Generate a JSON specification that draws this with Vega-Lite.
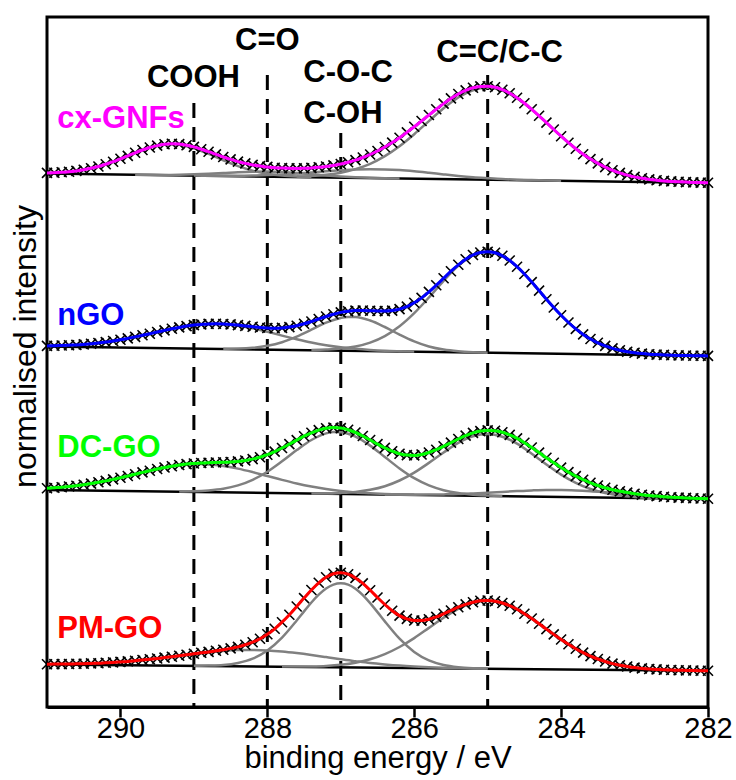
{
"$schema": "https://vega.github.io/schema/vega-lite/v6.json",
"width": 661, "height": 690,
"autosize": {"type": "none"},
"padding": {"left": 47, "top": 17, "right": 28, "bottom": 73},
"background": "white",
"config": {"view": {"stroke": "black", "strokeWidth": 3}, "font": "Liberation Sans"},
"datasets": {
"pts": [
{"E":291.0,"a":534.1,"b":361.1,"c":218.8,"d":42.8},
{"E":290.9,"a":534.3,"b":361.3,"c":219.3,"d":42.9},
{"E":290.8,"a":534.7,"b":361.5,"c":219.8,"d":42.9},
{"E":290.7,"a":535.2,"b":361.8,"c":220.5,"d":43.0},
{"E":290.6,"a":536.1,"b":362.1,"c":221.3,"d":43.2},
{"E":290.5,"a":537.2,"b":362.6,"c":222.3,"d":43.3},
{"E":290.4,"a":538.7,"b":363.3,"c":223.4,"d":43.6},
{"E":290.3,"a":540.5,"b":364.0,"c":224.7,"d":43.8},
{"E":290.2,"a":542.8,"b":364.9,"c":226.1,"d":44.2},
{"E":290.1,"a":545.3,"b":366.0,"c":227.6,"d":44.6},
{"E":290.0,"a":548.2,"b":367.2,"c":229.3,"d":45.1},
{"E":289.9,"a":551.1,"b":368.6,"c":231.0,"d":45.6},
{"E":289.8,"a":554.2,"b":370.1,"c":232.8,"d":46.3},
{"E":289.7,"a":557.0,"b":371.7,"c":234.6,"d":47.0},
{"E":289.6,"a":559.5,"b":373.3,"c":236.3,"d":47.7},
{"E":289.5,"a":561.4,"b":375.0,"c":238.0,"d":48.5},
{"E":289.4,"a":562.7,"b":376.6,"c":239.5,"d":49.4},
{"E":289.3,"a":563.2,"b":378.2,"c":240.8,"d":50.3},
{"E":289.2,"a":562.9,"b":379.6,"c":242.0,"d":51.3},
{"E":289.1,"a":561.8,"b":380.9,"c":242.9,"d":52.2},
{"E":289.0,"a":560.1,"b":381.9,"c":243.5,"d":53.2},
{"E":288.9,"a":557.8,"b":382.6,"c":244.0,"d":54.2},
{"E":288.8,"a":555.3,"b":383.1,"c":244.3,"d":55.1},
{"E":288.7,"a":552.6,"b":383.2,"c":244.5,"d":56.2},
{"E":288.6,"a":550.0,"b":383.0,"c":244.7,"d":57.3},
{"E":288.5,"a":547.6,"b":382.6,"c":245.0,"d":58.6},
{"E":288.4,"a":545.4,"b":381.9,"c":245.6,"d":60.1},
{"E":288.3,"a":543.6,"b":381.1,"c":246.5,"d":62.2},
{"E":288.2,"a":542.1,"b":380.3,"c":247.9,"d":64.8},
{"E":288.1,"a":540.9,"b":379.5,"c":249.8,"d":68.3},
{"E":288.0,"a":540.1,"b":379.0,"c":252.3,"d":72.7},
{"E":287.9,"a":539.3,"b":378.8,"c":255.4,"d":78.2},
{"E":287.8,"a":538.9,"b":379.1,"c":259.0,"d":84.8},
{"E":287.7,"a":538.7,"b":379.9,"c":262.9,"d":92.3},
{"E":287.6,"a":538.6,"b":381.3,"c":266.9,"d":100.5},
{"E":287.5,"a":538.8,"b":383.2,"c":270.8,"d":108.9},
{"E":287.4,"a":539.1,"b":385.5,"c":274.2,"d":117.0},
{"E":287.3,"a":539.7,"b":388.0,"c":276.9,"d":124.2},
{"E":287.2,"a":540.5,"b":390.5,"c":278.7,"d":129.7},
{"E":287.1,"a":541.6,"b":392.7,"c":279.4,"d":133.2},
{"E":287.0,"a":543.0,"b":394.6,"c":278.9,"d":134.3},
{"E":286.9,"a":544.8,"b":395.8,"c":277.2,"d":132.8},
{"E":286.8,"a":546.9,"b":396.4,"c":274.5,"d":129.1},
{"E":286.7,"a":549.5,"b":396.5,"c":271.0,"d":123.6},
{"E":286.6,"a":552.5,"b":396.3,"c":267.0,"d":116.8},
{"E":286.5,"a":556.0,"b":396.0,"c":262.9,"d":109.5},
{"E":286.4,"a":560.0,"b":395.9,"c":259.1,"d":102.5},
{"E":286.3,"a":564.4,"b":396.4,"c":255.8,"d":96.3},
{"E":286.2,"a":569.3,"b":397.9,"c":253.3,"d":91.4},
{"E":286.1,"a":574.6,"b":400.4,"c":251.9,"d":88.1},
{"E":286.0,"a":580.2,"b":404.2,"c":251.6,"d":86.5},
{"E":285.9,"a":586.0,"b":409.1,"c":252.5,"d":86.4},
{"E":285.8,"a":592.0,"b":415.1,"c":254.5,"d":87.8},
{"E":285.7,"a":597.8,"b":421.8,"c":257.3,"d":90.1},
{"E":285.6,"a":603.4,"b":428.8,"c":260.7,"d":93.2},
{"E":285.5,"a":608.6,"b":435.8,"c":264.4,"d":96.5},
{"E":285.4,"a":613.0,"b":442.2,"c":268.0,"d":99.8},
{"E":285.3,"a":616.6,"b":447.8,"c":271.4,"d":102.6},
{"E":285.2,"a":619.2,"b":452.0,"c":274.1,"d":104.8},
{"E":285.1,"a":620.6,"b":454.5,"c":275.9,"d":106.2},
{"E":285.0,"a":620.8,"b":455.3,"c":276.6,"d":106.5},
{"E":284.9,"a":619.7,"b":454.2,"c":276.3,"d":105.8},
{"E":284.8,"a":617.3,"b":451.2,"c":274.7,"d":104.0},
{"E":284.7,"a":613.8,"b":446.5,"c":272.1,"d":101.3},
{"E":284.6,"a":609.3,"b":440.3,"c":268.6,"d":97.7},
{"E":284.5,"a":603.8,"b":433.0,"c":264.3,"d":93.3},
{"E":284.4,"a":597.7,"b":424.9,"c":259.5,"d":88.5},
{"E":284.3,"a":591.2,"b":416.4,"c":254.4,"d":83.3},
{"E":284.2,"a":584.4,"b":407.8,"c":249.2,"d":77.9},
{"E":284.1,"a":577.5,"b":399.5,"c":244.2,"d":72.6},
{"E":284.0,"a":570.8,"b":391.7,"c":239.4,"d":67.5},
{"E":283.9,"a":564.3,"b":384.5,"c":234.9,"d":62.7},
{"E":283.8,"a":558.3,"b":378.1,"c":230.9,"d":58.3},
{"E":283.7,"a":552.8,"b":372.6,"c":227.3,"d":54.4},
{"E":283.6,"a":547.9,"b":368.0,"c":224.2,"d":50.9},
{"E":283.5,"a":543.6,"b":364.2,"c":221.5,"d":48.0},
{"E":283.4,"a":539.9,"b":361.1,"c":219.2,"d":45.5},
{"E":283.3,"a":536.7,"b":358.6,"c":217.3,"d":43.4},
{"E":283.2,"a":534.1,"b":356.7,"c":215.7,"d":41.8},
{"E":283.1,"a":531.9,"b":355.3,"c":214.4,"d":40.5},
{"E":283.0,"a":530.1,"b":354.2,"c":213.3,"d":39.4},
{"E":282.9,"a":528.7,"b":353.4,"c":212.3,"d":38.6},
{"E":282.8,"a":527.6,"b":352.8,"c":211.5,"d":38.0},
{"E":282.7,"a":526.8,"b":352.4,"c":210.9,"d":37.6},
{"E":282.6,"a":526.1,"b":352.1,"c":210.3,"d":37.2},
{"E":282.5,"a":525.6,"b":351.8,"c":209.8,"d":37.0},
{"E":282.4,"a":525.2,"b":351.6,"c":209.4,"d":36.7},
{"E":282.3,"a":524.9,"b":351.5,"c":209.1,"d":36.6},
{"E":282.2,"a":524.6,"b":351.3,"c":208.8,"d":36.5},
{"E":282.1,"a":524.4,"b":351.2,"c":208.5,"d":36.3},
{"E":282.0,"a":524.2,"b":351.1,"c":208.3,"d":36.2}
],
"comp": [
{"c":"a1","E":291.0,"y":534.1},{"c":"a1","E":290.8,"y":534.7},{"c":"a1","E":290.6,"y":536.1},{"c":"a1","E":290.4,"y":538.7},{"c":"a1","E":290.2,"y":542.8},{"c":"a1","E":290.0,"y":548.2},{"c":"a1","E":289.8,"y":554.1},{"c":"a1","E":289.6,"y":559.4},{"c":"a1","E":289.4,"y":562.4},{"c":"a1","E":289.3,"y":562.7},{"c":"a1","E":289.2,"y":562.2},{"c":"a1","E":289.0,"y":558.8},{"c":"a1","E":288.8,"y":553.1},{"c":"a1","E":288.6,"y":546.7},{"c":"a1","E":288.4,"y":540.9},{"c":"a1","E":288.2,"y":536.4},{"c":"a1","E":288.0,"y":533.3},{"c":"a1","E":287.8,"y":531.5},{"c":"a1","E":287.6,"y":530.5},{"c":"a1","E":287.4,"y":529.9},
{"c":"a2","E":289.8,"y":532.3},{"c":"a2","E":289.6,"y":532.2},{"c":"a2","E":289.4,"y":532.1},{"c":"a2","E":289.2,"y":532.3},{"c":"a2","E":289.0,"y":532.7},{"c":"a2","E":288.8,"y":533.3},{"c":"a2","E":288.6,"y":534.0},{"c":"a2","E":288.4,"y":534.8},{"c":"a2","E":288.2,"y":535.3},{"c":"a2","E":288.0,"y":535.4},{"c":"a2","E":287.8,"y":534.9},{"c":"a2","E":287.6,"y":533.9},{"c":"a2","E":287.4,"y":532.8},{"c":"a2","E":287.2,"y":531.6},{"c":"a2","E":287.0,"y":530.6},{"c":"a2","E":286.8,"y":529.8},{"c":"a2","E":286.6,"y":529.2},{"c":"a2","E":286.4,"y":528.8},{"c":"a2","E":286.2,"y":528.6},
{"c":"a3","E":289.0,"y":531.5},{"c":"a3","E":288.8,"y":531.3},{"c":"a3","E":288.6,"y":531.3},{"c":"a3","E":288.4,"y":531.3},{"c":"a3","E":288.2,"y":531.5},{"c":"a3","E":288.0,"y":531.9},{"c":"a3","E":287.8,"y":532.5},{"c":"a3","E":287.6,"y":533.4},{"c":"a3","E":287.4,"y":534.5},{"c":"a3","E":287.2,"y":535.7},{"c":"a3","E":287.0,"y":536.7},{"c":"a3","E":286.8,"y":537.5},{"c":"a3","E":286.6,"y":537.8},{"c":"a3","E":286.4,"y":537.6},{"c":"a3","E":286.2,"y":536.9},{"c":"a3","E":286.0,"y":535.7},{"c":"a3","E":285.8,"y":534.2},{"c":"a3","E":285.6,"y":532.6},{"c":"a3","E":285.4,"y":531.1},{"c":"a3","E":285.2,"y":529.8},{"c":"a3","E":285.0,"y":528.8},{"c":"a3","E":284.8,"y":527.9},{"c":"a3","E":284.6,"y":527.3},{"c":"a3","E":284.4,"y":526.9},{"c":"a3","E":284.2,"y":526.5},{"c":"a3","E":284.0,"y":526.2},
{"c":"a4","E":287.6,"y":530.6},{"c":"a4","E":287.4,"y":531.1},{"c":"a4","E":287.2,"y":532.3},{"c":"a4","E":287.0,"y":534.3},{"c":"a4","E":286.8,"y":537.9},{"c":"a4","E":286.6,"y":543.2},{"c":"a4","E":286.4,"y":550.9},{"c":"a4","E":286.2,"y":560.8},{"c":"a4","E":286.0,"y":572.8},{"c":"a4","E":285.8,"y":585.9},{"c":"a4","E":285.6,"y":598.7},{"c":"a4","E":285.4,"y":609.5},{"c":"a4","E":285.2,"y":616.8},{"c":"a4","E":285.0,"y":619.2},{"c":"a4","E":284.8,"y":616.4},{"c":"a4","E":284.6,"y":608.7},{"c":"a4","E":284.4,"y":597.4},{"c":"a4","E":284.2,"y":584.2},{"c":"a4","E":284.0,"y":570.7},{"c":"a4","E":283.8,"y":558.3},{"c":"a4","E":283.6,"y":547.9},{"c":"a4","E":283.4,"y":539.9},{"c":"a4","E":283.2,"y":534.1},{"c":"a4","E":283.0,"y":530.1},{"c":"a4","E":282.8,"y":527.6},{"c":"a4","E":282.6,"y":526.1},{"c":"a4","E":282.4,"y":525.2},{"c":"a4","E":282.2,"y":524.6},{"c":"a4","E":282.0,"y":524.2},
{"c":"b1","E":291.0,"y":361.1},{"c":"b1","E":290.8,"y":361.5},{"c":"b1","E":290.6,"y":362.1},{"c":"b1","E":290.4,"y":363.3},{"c":"b1","E":290.2,"y":364.9},{"c":"b1","E":290.0,"y":367.2},{"c":"b1","E":289.8,"y":370.1},{"c":"b1","E":289.6,"y":373.3},{"c":"b1","E":289.4,"y":376.6},{"c":"b1","E":289.2,"y":379.6},{"c":"b1","E":289.0,"y":381.9},{"c":"b1","E":288.8,"y":383.0},{"c":"b1","E":288.7,"y":383.1},{"c":"b1","E":288.6,"y":382.8},{"c":"b1","E":288.4,"y":381.3},{"c":"b1","E":288.2,"y":378.6},{"c":"b1","E":288.0,"y":375.2},{"c":"b1","E":287.8,"y":371.4},{"c":"b1","E":287.6,"y":367.8},{"c":"b1","E":287.4,"y":364.5},{"c":"b1","E":287.2,"y":361.8},{"c":"b1","E":287.0,"y":359.7},{"c":"b1","E":286.8,"y":358.2},{"c":"b1","E":286.6,"y":357.1},{"c":"b1","E":286.4,"y":356.3},{"c":"b1","E":286.2,"y":355.8},{"c":"b1","E":286.0,"y":355.4},
{"c":"b2","E":288.6,"y":358.2},{"c":"b2","E":288.4,"y":358.4},{"c":"b2","E":288.2,"y":359.2},{"c":"b2","E":288.0,"y":361.2},{"c":"b2","E":287.8,"y":364.8},{"c":"b2","E":287.6,"y":370.4},{"c":"b2","E":287.4,"y":377.3},{"c":"b2","E":287.2,"y":384.3},{"c":"b2","E":287.0,"y":389.1},{"c":"b2","E":286.9,"y":390.1},{"c":"b2","E":286.8,"y":390.0},{"c":"b2","E":286.6,"y":386.5},{"c":"b2","E":286.4,"y":380.0},{"c":"b2","E":286.2,"y":372.4},{"c":"b2","E":286.0,"y":365.6},{"c":"b2","E":285.8,"y":360.5},{"c":"b2","E":285.6,"y":357.4},{"c":"b2","E":285.4,"y":355.7},{"c":"b2","E":285.2,"y":354.8},{"c":"b2","E":285.0,"y":354.3},
{"c":"b3","E":287.4,"y":357.1},{"c":"b3","E":287.2,"y":357.5},{"c":"b3","E":287.0,"y":358.4},{"c":"b3","E":286.8,"y":360.5},{"c":"b3","E":286.6,"y":364.4},{"c":"b3","E":286.4,"y":370.9},{"c":"b3","E":286.2,"y":380.7},{"c":"b3","E":286.0,"y":393.8},{"c":"b3","E":285.8,"y":409.5},{"c":"b3","E":285.6,"y":426.2},{"c":"b3","E":285.4,"y":441.2},{"c":"b3","E":285.2,"y":451.6},{"c":"b3","E":285.0,"y":455.2},{"c":"b3","E":284.8,"y":451.2},{"c":"b3","E":284.6,"y":440.3},{"c":"b3","E":284.4,"y":424.9},{"c":"b3","E":284.2,"y":407.8},{"c":"b3","E":284.0,"y":391.7},{"c":"b3","E":283.8,"y":378.1},{"c":"b3","E":283.6,"y":368.0},{"c":"b3","E":283.4,"y":361.1},{"c":"b3","E":283.2,"y":356.7},{"c":"b3","E":283.0,"y":354.2},{"c":"b3","E":282.8,"y":352.8},{"c":"b3","E":282.6,"y":352.1},{"c":"b3","E":282.4,"y":351.6},{"c":"b3","E":282.2,"y":351.3},{"c":"b3","E":282.0,"y":351.1},
{"c":"c1","E":291.0,"y":218.8},{"c":"c1","E":290.8,"y":219.8},{"c":"c1","E":290.6,"y":221.3},{"c":"c1","E":290.4,"y":223.4},{"c":"c1","E":290.2,"y":226.1},{"c":"c1","E":290.0,"y":229.3},{"c":"c1","E":289.8,"y":232.8},{"c":"c1","E":289.6,"y":236.3},{"c":"c1","E":289.4,"y":239.4},{"c":"c1","E":289.2,"y":241.7},{"c":"c1","E":289.0,"y":242.8},{"c":"c1","E":288.9,"y":242.9},{"c":"c1","E":288.8,"y":242.6},{"c":"c1","E":288.6,"y":241.1},{"c":"c1","E":288.4,"y":238.4},{"c":"c1","E":288.2,"y":234.9},{"c":"c1","E":288.0,"y":231.0},{"c":"c1","E":287.8,"y":227.1},{"c":"c1","E":287.6,"y":223.5},{"c":"c1","E":287.4,"y":220.4},{"c":"c1","E":287.2,"y":217.9},{"c":"c1","E":287.0,"y":216.0},{"c":"c1","E":286.8,"y":214.6},{"c":"c1","E":286.6,"y":213.7},{"c":"c1","E":286.4,"y":213.0},{"c":"c1","E":286.2,"y":212.5},{"c":"c1","E":286.0,"y":212.2},
{"c":"c2","E":289.2,"y":215.5},{"c":"c2","E":289.0,"y":215.7},{"c":"c2","E":288.8,"y":216.5},{"c":"c2","E":288.6,"y":218.2},{"c":"c2","E":288.4,"y":221.6},{"c":"c2","E":288.2,"y":227.2},{"c":"c2","E":288.0,"y":235.3},{"c":"c2","E":287.8,"y":245.7},{"c":"c2","E":287.6,"y":256.9},{"c":"c2","E":287.4,"y":267.0},{"c":"c2","E":287.2,"y":273.6},{"c":"c2","E":287.1,"y":274.9},{"c":"c2","E":287.0,"y":274.8},{"c":"c2","E":286.8,"y":270.4},{"c":"c2","E":286.6,"y":261.4},{"c":"c2","E":286.4,"y":250.0},{"c":"c2","E":286.2,"y":238.6},{"c":"c2","E":286.0,"y":228.8},{"c":"c2","E":285.8,"y":221.6},{"c":"c2","E":285.6,"y":216.8},{"c":"c2","E":285.4,"y":213.9},{"c":"c2","E":285.2,"y":212.3},{"c":"c2","E":285.0,"y":211.4},{"c":"c2","E":284.8,"y":211.0},
{"c":"c3","E":287.4,"y":213.6},{"c":"c3","E":287.2,"y":213.6},{"c":"c3","E":287.0,"y":214.1},{"c":"c3","E":286.8,"y":215.1},{"c":"c3","E":286.6,"y":217.2},{"c":"c3","E":286.4,"y":220.8},{"c":"c3","E":286.2,"y":226.5},{"c":"c3","E":286.0,"y":234.4},{"c":"c3","E":285.8,"y":244.1},{"c":"c3","E":285.6,"y":254.5},{"c":"c3","E":285.4,"y":264.1},{"c":"c3","E":285.2,"y":270.7},{"c":"c3","E":285.0,"y":273.0},{"c":"c3","E":284.8,"y":270.3},{"c":"c3","E":284.6,"y":263.3},{"c":"c3","E":284.4,"y":253.3},{"c":"c3","E":284.2,"y":242.5},{"c":"c3","E":284.0,"y":232.4},{"c":"c3","E":283.8,"y":224.1},{"c":"c3","E":283.6,"y":218.0},{"c":"c3","E":283.4,"y":214.0},{"c":"c3","E":283.2,"y":211.5},{"c":"c3","E":283.0,"y":210.1},{"c":"c3","E":282.8,"y":209.2},{"c":"c3","E":282.6,"y":208.8},
{"c":"c4","E":286.4,"y":212.5},{"c":"c4","E":286.2,"y":212.4},{"c":"c4","E":286.0,"y":212.3},{"c":"c4","E":285.8,"y":212.4},{"c":"c4","E":285.6,"y":212.6},{"c":"c4","E":285.4,"y":212.9},{"c":"c4","E":285.2,"y":213.5},{"c":"c4","E":285.0,"y":214.2},{"c":"c4","E":284.8,"y":215.1},{"c":"c4","E":284.6,"y":215.9},{"c":"c4","E":284.4,"y":216.6},{"c":"c4","E":284.2,"y":217.0},{"c":"c4","E":284.0,"y":217.0},{"c":"c4","E":283.8,"y":216.6},{"c":"c4","E":283.6,"y":215.8},{"c":"c4","E":283.4,"y":214.7},{"c":"c4","E":283.2,"y":213.5},{"c":"c4","E":283.0,"y":212.2},{"c":"c4","E":282.8,"y":211.1},{"c":"c4","E":282.6,"y":210.1},{"c":"c4","E":282.4,"y":209.4},{"c":"c4","E":282.2,"y":208.8},{"c":"c4","E":282.0,"y":208.3},
{"c":"d1","E":291.0,"y":42.8},{"c":"d1","E":290.8,"y":42.9},{"c":"d1","E":290.6,"y":43.2},{"c":"d1","E":290.4,"y":43.6},{"c":"d1","E":290.2,"y":44.2},{"c":"d1","E":290.0,"y":45.1},{"c":"d1","E":289.8,"y":46.3},{"c":"d1","E":289.6,"y":47.7},{"c":"d1","E":289.4,"y":49.4},{"c":"d1","E":289.2,"y":51.3},{"c":"d1","E":289.0,"y":53.1},{"c":"d1","E":288.8,"y":54.7},{"c":"d1","E":288.6,"y":56.1},{"c":"d1","E":288.4,"y":56.9},{"c":"d1","E":288.2,"y":57.0},{"c":"d1","E":288.0,"y":56.6},{"c":"d1","E":287.8,"y":55.5},{"c":"d1","E":287.6,"y":53.9},{"c":"d1","E":287.4,"y":52.0},{"c":"d1","E":287.2,"y":49.9},{"c":"d1","E":287.0,"y":47.7},{"c":"d1","E":286.8,"y":45.8},{"c":"d1","E":286.6,"y":44.0},{"c":"d1","E":286.4,"y":42.6},{"c":"d1","E":286.2,"y":41.4},{"c":"d1","E":286.0,"y":40.5},{"c":"d1","E":285.8,"y":39.8},{"c":"d1","E":285.6,"y":39.3},{"c":"d1","E":285.4,"y":38.9},{"c":"d1","E":285.2,"y":38.6},{"c":"d1","E":285.0,"y":38.4},
{"c":"d2","E":289.0,"y":41.2},{"c":"d2","E":288.8,"y":41.4},{"c":"d2","E":288.6,"y":42.0},{"c":"d2","E":288.4,"y":44.0},{"c":"d2","E":288.2,"y":48.3},{"c":"d2","E":288.0,"y":56.5},{"c":"d2","E":287.8,"y":69.4},{"c":"d2","E":287.6,"y":86.5},{"c":"d2","E":287.5,"y":95.6},{"c":"d2","E":287.4,"y":104.5},{"c":"d2","E":287.3,"y":112.3},{"c":"d2","E":287.2,"y":118.5},{"c":"d2","E":287.1,"y":122.4},{"c":"d2","E":287.0,"y":123.7},{"c":"d2","E":286.9,"y":122.3},{"c":"d2","E":286.8,"y":118.2},{"c":"d2","E":286.7,"y":111.9},{"c":"d2","E":286.6,"y":103.9},{"c":"d2","E":286.5,"y":94.9},{"c":"d2","E":286.4,"y":85.6},{"c":"d2","E":286.2,"y":68.3},{"c":"d2","E":286.0,"y":55.1},{"c":"d2","E":285.8,"y":46.6},{"c":"d2","E":285.6,"y":42.0},{"c":"d2","E":285.4,"y":39.8},{"c":"d2","E":285.2,"y":38.8},{"c":"d2","E":285.0,"y":38.4},
{"c":"d3","E":287.8,"y":40.4},{"c":"d3","E":287.6,"y":40.4},{"c":"d3","E":287.4,"y":40.6},{"c":"d3","E":287.2,"y":41.1},{"c":"d3","E":287.0,"y":42.2},{"c":"d3","E":286.8,"y":44.3},{"c":"d3","E":286.6,"y":47.7},{"c":"d3","E":286.4,"y":52.9},{"c":"d3","E":286.2,"y":60.0},{"c":"d3","E":286.0,"y":68.9},{"c":"d3","E":285.8,"y":79.1},{"c":"d3","E":285.6,"y":89.3},{"c":"d3","E":285.4,"y":98.2},{"c":"d3","E":285.2,"y":104.2},{"c":"d3","E":285.0,"y":106.3},{"c":"d3","E":284.8,"y":104.0},{"c":"d3","E":284.6,"y":97.6},{"c":"d3","E":284.4,"y":88.5},{"c":"d3","E":284.2,"y":77.9},{"c":"d3","E":284.0,"y":67.5},{"c":"d3","E":283.8,"y":58.3},{"c":"d3","E":283.6,"y":50.9},{"c":"d3","E":283.4,"y":45.5},{"c":"d3","E":283.2,"y":41.8},{"c":"d3","E":283.0,"y":39.4},{"c":"d3","E":282.8,"y":38.0},{"c":"d3","E":282.6,"y":37.2},{"c":"d3","E":282.4,"y":36.7},{"c":"d3","E":282.2,"y":36.5},{"c":"d3","E":282.0,"y":36.2}
],
"base": [
{"s":"a","E":291,"y":533.5},{"s":"a","E":282,"y":524.1},
{"s":"b","E":291,"y":360.5},{"s":"b","E":282,"y":351.1},
{"s":"c","E":291,"y":217.0},{"s":"c","E":282,"y":208.0},
{"s":"d","E":291,"y":42.5},{"s":"d","E":282,"y":36.2}
],
"ref": [
{"E":289,"y":604,"y0":0},{"E":288,"y":632,"y0":0},{"E":287,"y":574,"y0":0},{"E":285,"y":632,"y0":0}
],
"lab": [
{"s":"a","t":"cx-GNFs","E":290.86,"y":579},
{"s":"b","t":"nGO","E":290.86,"y":382},
{"s":"c","t":"DC-GO","E":290.86,"y":250},
{"s":"d","t":"PM-GO","E":290.86,"y":69}
],
"ann": [
{"t":"COOH","E":289.64,"y":620},
{"t":"C=O","E":288.44,"y":657},
{"t":"C-O-C","E":287.51,"y":625},
{"t":"C-OH","E":287.51,"y":584},
{"t":"C=C/C-C","E":285.70,"y":645}
]
},
"encoding": {
"x": {"field": "E", "type": "quantitative",
 "scale": {"domain": [282, 291], "reverse": true, "nice": false, "zero": false},
 "axis": {"title": "binding energy / eV",
  "values": [290, 288, 286, 284, 282],
  "format": "d",
  "tickSize": 10,
  "tickWidth": 2.5, "tickColor": "black", "domainColor": "black", "domainWidth": 3,
  "grid": false, "labelFlush": false, "labelOverlap": false,
  "labelFont": "Liberation Sans", "labelFontSize": 29, "labelColor": "black", "labelPadding": -3,
  "titleFont": "Liberation Sans", "titleFontSize": 31, "titleFontWeight": "normal", "titleColor": "black", "titlePadding": 0}},
"y": {"field": "y", "type": "quantitative",
 "scale": {"domain": [0, 690], "nice": false, "zero": false},
 "axis": {"title": "normalised intensity", "ticks": false, "labels": false, "domain": false, "grid": false,
  "titleFont": "Liberation Sans", "titleFontSize": 32, "titleFontWeight": "normal", "titleColor": "black",
  "titleAngle": 270, "titleAlign": "center", "titleBaseline": "alphabetic", "titleX": -12, "titleY": 329}}
},
"layer": [
{"data": {"name": "ref"}, "mark": {"type": "rule", "color": "black", "strokeWidth": 3, "strokeDash": [15, 9]},
 "encoding": {"y2": {"field": "y0"}}},
{"data": {"name": "base"}, "mark": {"type": "line", "color": "black", "strokeWidth": 2.5},
 "encoding": {"detail": {"field": "s"}}},
{"data": {"name": "comp"}, "mark": {"type": "line", "color": "#808080", "strokeWidth": 2.5, "interpolate": "monotone"},
 "encoding": {"detail": {"field": "c"}}},
{"data": {"name": "pts"}, "transform": [{"fold": ["a","b","c","d"], "as": ["s","y"]}],
 "mark": {"type": "point", "shape": "M-1,-1L1,1M-1,1L1,-1", "filled": false, "color": "black", "strokeWidth": 1.6, "size": 100, "opacity": 1},
 "encoding": {"detail": {"field": "s"}}},
{"data": {"name": "pts"}, "transform": [{"fold": ["a","b","c","d"], "as": ["s","y"]}],
 "mark": {"type": "line", "strokeWidth": 3, "interpolate": "monotone"},
 "encoding": {"color": {"field": "s", "type": "nominal", "scale": {"domain": ["a","b","c","d"], "range": ["#ff00ff","#0000ff","#00ff00","#ff0000"]}, "legend": null}}},
{"data": {"name": "lab"}, "mark": {"type": "text", "align": "left", "baseline": "alphabetic", "font": "Liberation Sans", "fontSize": 31, "fontWeight": "bold"},
 "encoding": {"text": {"field": "t"}, "color": {"field": "s", "type": "nominal", "legend": null}}},
{"data": {"name": "ann"}, "mark": {"type": "text", "align": "left", "baseline": "alphabetic", "font": "Liberation Sans", "fontSize": 31, "fontWeight": "bold", "color": "black"},
 "encoding": {"text": {"field": "t"}}}
]
}
